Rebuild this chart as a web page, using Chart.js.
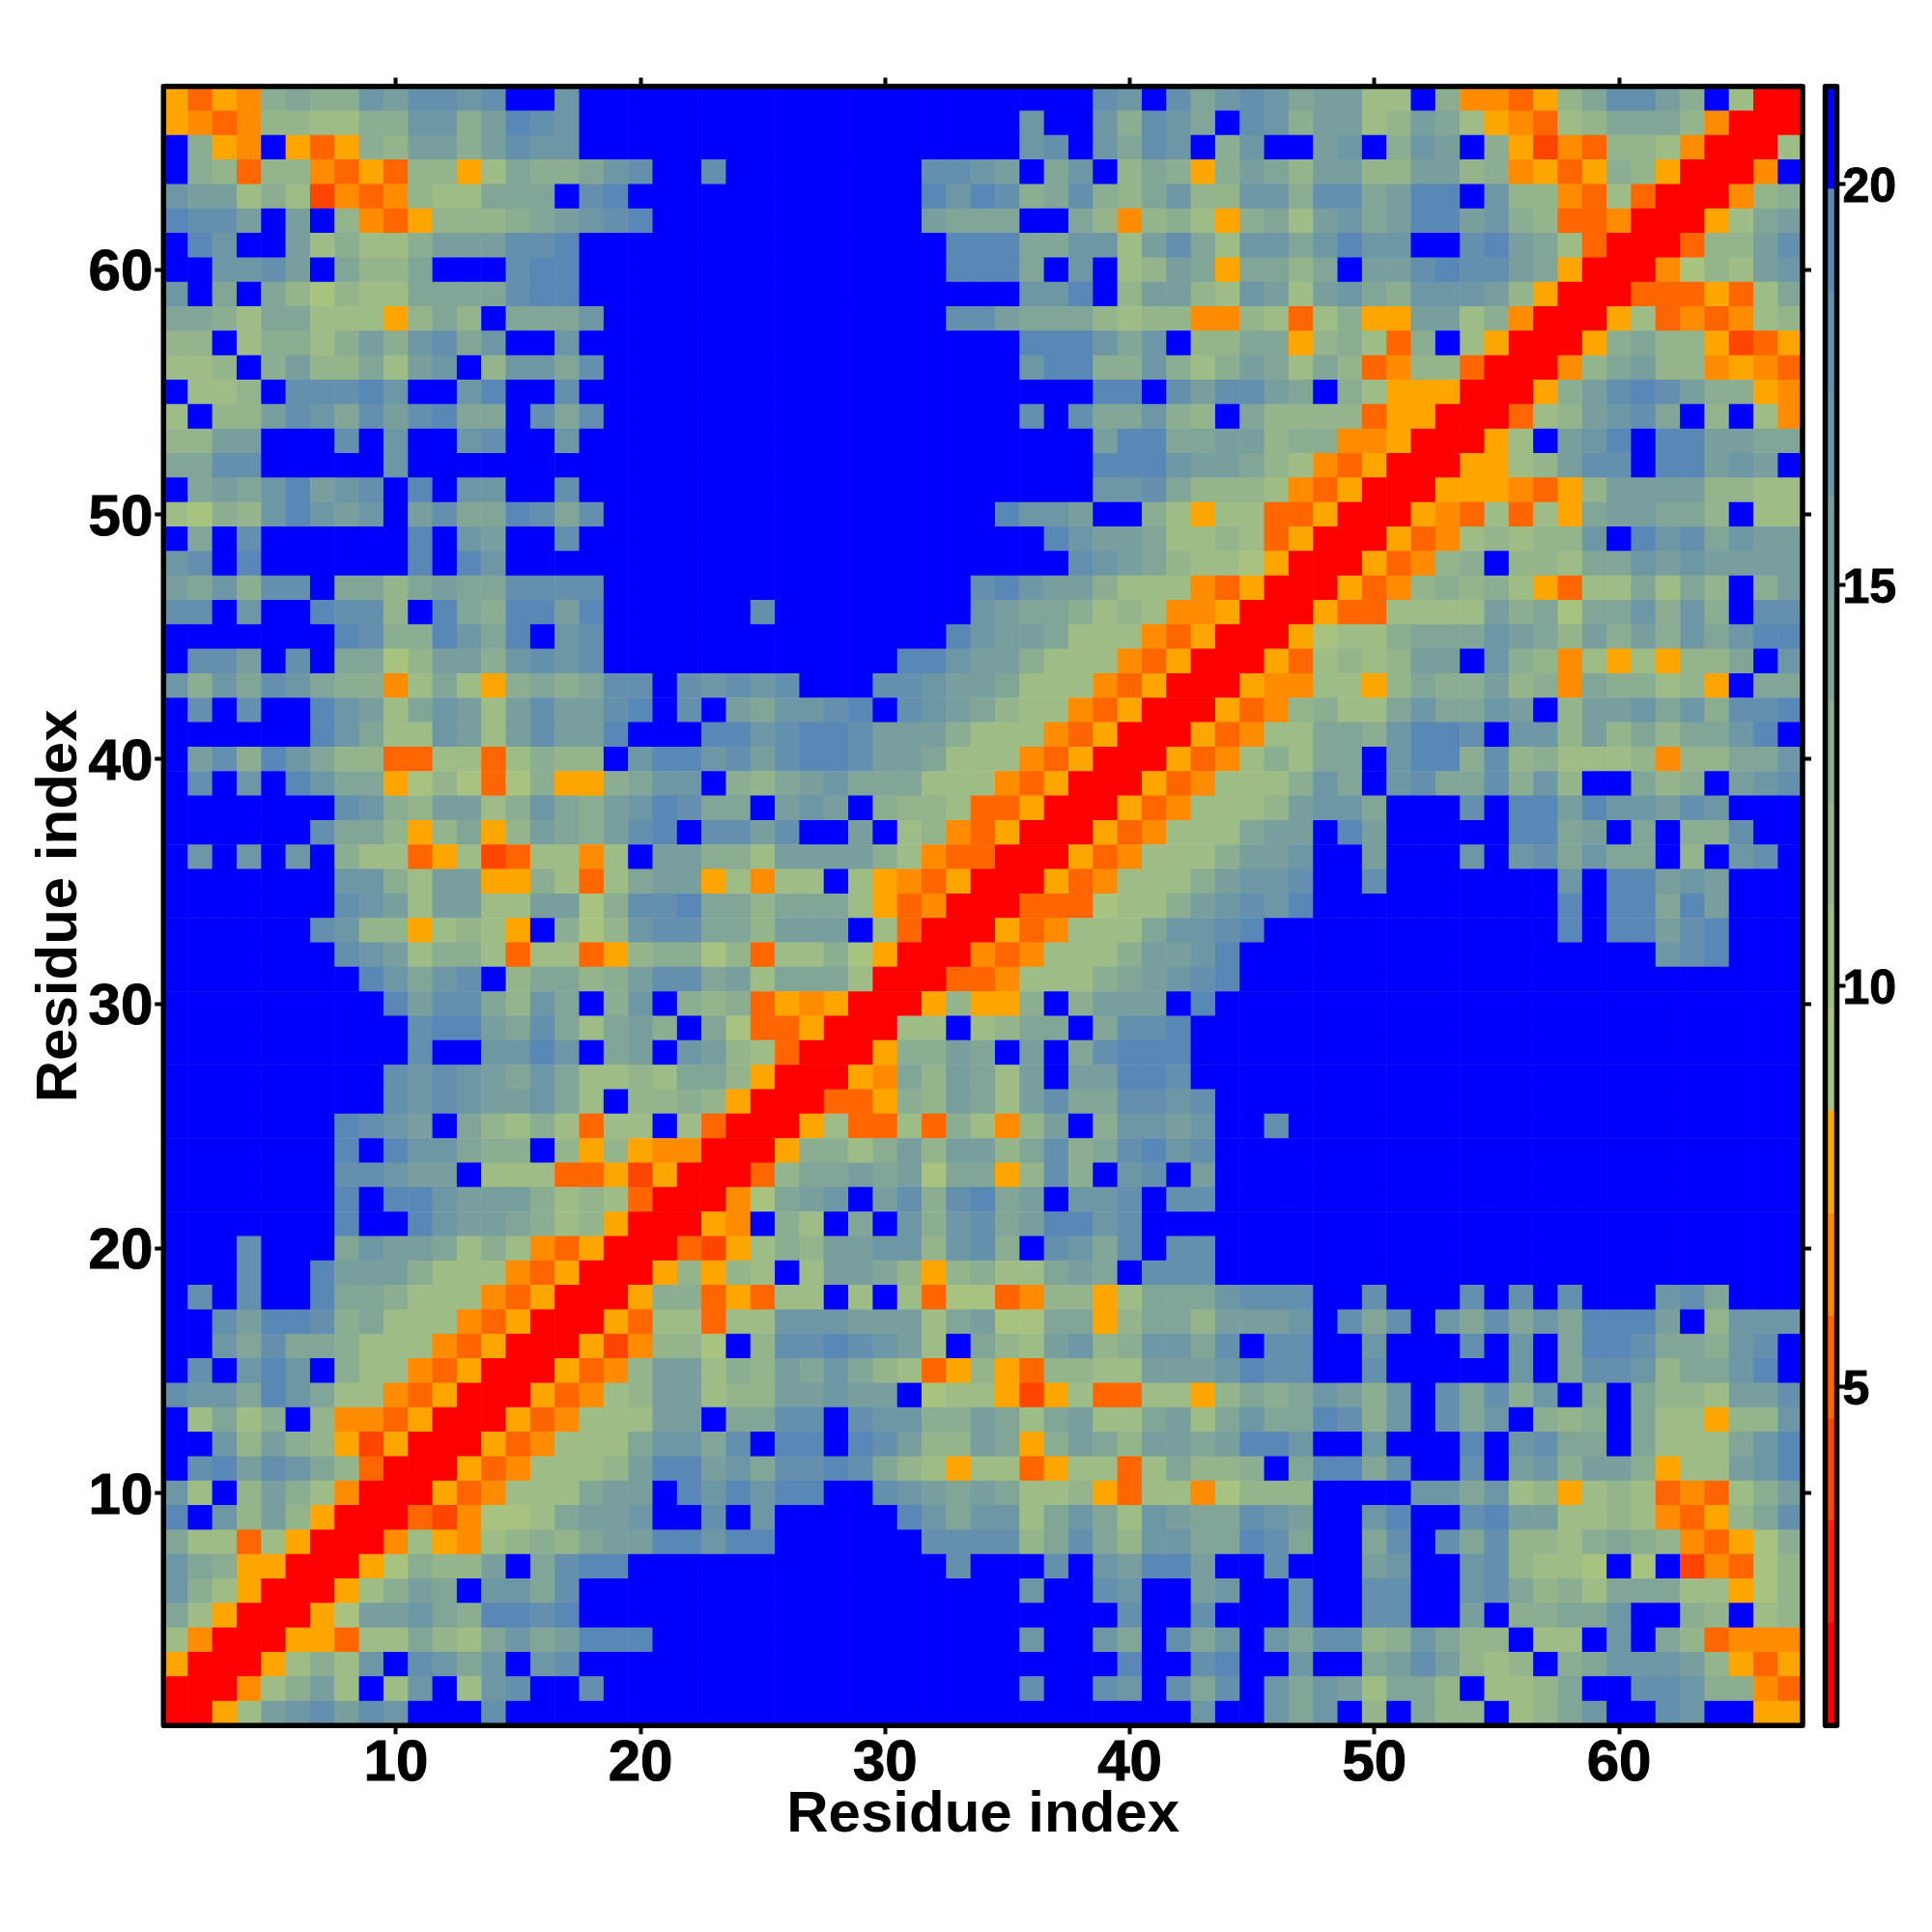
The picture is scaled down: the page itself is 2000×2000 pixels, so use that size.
<!DOCTYPE html>
<html>
<head>
<meta charset="utf-8">
<title>Residue distance map</title>
<script src="https://cdn.jsdelivr.net/npm/chart.js@4/dist/chart.umd.js"></script>
<style>
  body { margin: 0; background: #fff; }
  canvas { position: absolute; top: 0; }
  #mapa { left: 0; }
  #barra { left: 1870px; }
</style>
</head>
<body>
<canvas id="mapa" width="2000" height="2000"></canvas>
<canvas id="barra" width="130" height="2000"></canvas>
<script>
// Colour levels, lowest distance first, and their edges on the colour bar
const levelColors = [
  "#ff0000", "#ff2200", "#ff4500", "#ff6600", "#ff8c00", "#ffa500",
  "#a8c380", "#9ebc86", "#94b48c", "#8bad92", "#81a698", "#789f9e",
  "#6e97a6", "#6490ae", "#5a88b6", "#0000ff"
];
const levelEdges = [0.77, 2.05, 3.33, 4.6, 5.88, 7.16, 8.44, 9.72, 11, 12.27, 13.55, 14.83, 16.11, 17.39, 18.66, 19.94, 21.22];

const residueTicks = [10, 20, 30, 40, 50, 60];
const colorbarTicks = [5, 10, 15, 20];
const axisLabel = "Residue index";

// One string per row, top row is residue 67. Each character is a level (hex index in levelColors)
const mapRows = [
  "53549a99cb ddcdffcfff ffffffffff ffffffffdc fdacdcabb7 7f944358ad db9f700",
  "5434887799 cc9bedcfff ffffffffff fffffcffc9 dcafdc9bb7 8ba754378a aa84000",
  "f954f53598 bb9bdccfff ffffffffff fffffcdfca dcf9cffbcf 9cbf952438 8740007",
  "f983884353 885 7a99acd ffdfffffff fddcbfacf8 a959ba8bb8 8bb8945359 850004f",
  "cbb7972434 877aaafdef ffffffffff feced9ad98 ac88cc9dda beefc88437 3000489",
  "eddbfbf843 58889abcde ffffffffff fbaaaffa84 89759a7bca beebc98334 00057ab",
  "fecffb7977 9bbbddefff ffffffffff ffeeeaacc7 bda7ccacec cffdeba730 00388bd",
  "ffccdbfa88 afffdeefff ffffffffff ffeeeafcf7 8ba5aa8afb bdeddba500 04687bc",
  "cfafa86877 aaaadeefff ffffffffff fffffccef8 bb87cb7bca 9cccb85000 333537a",
  "aa97aa7775 8a8faaacff ffffffffff ffddbaaa87 8844873795 5bb7940005 7343478",
  "88f79979b9 cdacffcfff ffffffffff fffffeeeca cf88aa5897 39f7500059 a885235",
  "778f9b88a7 bcf8ccadff ffffffffff fffffcee99 c979ba7a83 488300048a b884543",
  "f778fdddec ffceffdfff ffffffffff ffffffffee fdbddbaf97 55500059bd edb9954",
  "7f88bdcadb deaafdadff ffffffffff fffffdfdaa c98fa88883 55000378bc daf8f74",
  "88bbfffdfc ffcdffcfff ffffffffff ffffffffbe eaabb89944 500057fbce feebbaa",
  "aaddfffffc ffffffffff ffffffffff ffffffffee ecbba87435 0005578bdd feebcbf",
  "fabacebcdf efccffdfff ffffffffff ffffffffcc da88874350 005554358b bbb8877",
  "7698cecbcf bdaaedadff ffffffffff ffffeccbff 9757733500 05437375ab baa8f77",
  "fafdffffff efcbffdfff ffffffffff ffffffecbb a778735000 53478788cf ecdacbb",
  "cdfeffffff efecffffff ffffffffff fffffffdcb a877650005 3489f887aa cbcbbbb",
  "bac9ddfaa8 abaaddddff ffffffffff fffdecbb97 7743500053 4898975377 a7a8f9b",
  "ddfcffedd8 fea9eebeff ffffdfffff fffcbaa978 7445000533 7777b9a6aa c9c9fdd",
  "fffffffed9 9ecaefcdff ffffffffff ffecbba777 4350005677 9aaacba8b9 b9cacee",
  "fddbfdfaa6 8bb9cdcdff ffffffffff eecbb97774 3500053787 8bbfc98475 7588afc",
  "c9cadca994 7a759a9add fdcdcdfffd dcbba77743 5000544775 8a99b894a9 9785faa",
  "fdfdffecb7 acb7bdbbde fdfbaccdef dcba877435 0005348977 acaacbf8bb cac9dde",
  "ffffffeca7 7cb7bdbbef ffeecdeedb bb97774350 0053477aa9 ceedfcc8b8 a8aacef",
  "fbd9eca883 37737988fc eecdbdeedb ba77743500 0534797aaf cee9d89777 8488aac",
  "fdfcfecaa5 686369559a ccf98abcaa a777435000 5347779caf cdaad9c8ff a89fbcd",
  "fffffffdc9 8bb79ca9bc edaafbcbf9 8873350005 347778bcca fffdfeebec cbdcfff",
  "ffffffdaa8 58a58ba9bd efddbdffbf 7843500053 4777abbfeb fffffeeabf af99dff",
  "fcfcfcf977 357237747f bb997bbbb9 7433000534 7779bbcffb fffcfcdaca af8fcdf",
  "fffffffcc9 7bb559737a bb57477f75 4350005347 779bccdffd fffffffcfe ebcbfff",
  "fffffffdcb 7bb77bb69d deaa8aaa75 3400033367 79bcdcefff fffffffefe eaebfff",
  "ffffffdc88 57875f968c ddaa8bbbf7 3000534777 accdefffff fffffffefe ebdefff",
  "fffffffdcb 7997377358 9968377965 0004347779 bbceffffff ffffffffff fcdefff",
  "ffffffffec acdf8aa89b ddab7aaa70 003347779a bcdeffffff ffffffffff fffffff",
  "fffffffffe bdda8caf9c f989354500 058559f9bb bfefffffff ffffffffff fffffff",
  "ffffffffff deebada7ab 9fa6335000 77f78aafad deffffffff ffffffffff fffffff",
  "ffffffffff dffccecfab fcb8730005 99bafbfade eeffffffff ffffffffff fffffff",
  "fffffffffd cdcbaca778 7aa8500054 a8ba7bfbbe edffffffff ffffffffff fffffff",
  "fffffffffd cdcbbca7f8 8985000335 98ba7bdaad dcdfffffff ffffffffff fffffff",
  "fffffffedc bfa8797377 f730005733 739748bf9c cbcffdffff ffffffffff fffffff",
  "fffffffefe cca99f8585 4400059979 b8bb8ad9ad ecdfffffff ffffffffff fffffff",
  "fffffffddc bbf7773352 500038aaba b6aa58d9fc dfbfffffff ffffffffff fffffff",
  "fffffffefe ecbbb97873 00046abcfb d9deabfccd fddfffffff ffffffffff fffffff",
  "fffffffeff ecbba97850 0054f97faf c9cdabeecd ffffffffff ffffffffff fffffff",
  "fffdfffacb ba79743500 0325798bbc c8cd9fdcad fddfffffff ffffffffff fffffff",
  "fffdffebbb 9777435000 58587f7bba 858977abaf dddfffffff ffffffffff fffffff",
  "fdfdffeaa9 7774350005 9935377f7f 7366348857 aaacdddffd fffdfdfdff fcdafff",
  "ffdbeed9a7 7743500053 77377cccbb b7ab66aa58 aa8bbbcfda dfcadacaee ebf8ccc",
  "ffcadaa977 7435000524 886f8ddedc b7fa87bc89 ccadfddffc fffdfcfaee daa9cdf",
  "fdfcecf977 4350005348 bb798baca8 7358538877 bbbceddffd fffffcfadd c8aacef",
  "dccaeca774 3500053478 bb788bbcbb f677525733 7758a9acb9 cfdad9cfaf a887bbd",
  "f7a79f8443 5000534777 bbfaaddfdc c99ba7ab77 ab7acaaed9 cfdacf989f a77588c",
  "ffc8b98525 000534777a ccadfeefed b88ba59ba8 bbabeecffc fffefcdaaf a777ace",
  "fdebdca830 005347778b eebcaddeda 8757735773 7a889faeea dffdfbc9bb 9577bce",
  "c7f8b97400 0534777abb fececeeffd cbaba77853 7746888fff fccac78578 734379b",
  "efc8b85000 324667abbc ffdfcfffff ecacc7aca7 cbaadcbffc effdebb778 74358ad",
  "a773750004 7547898abb eeceefffff fdddd8ada8 ccaaedaffa dfdad8879a 9843569",
  "ca95500056 988bfadeef ffffffffff ffdfffdfcb eebffdfffb cffcd8776f 6f24368",
  "c975000579 bafccadfff ffffffffff fffffcffdc ffbcffdffd dffcda897a aa77568",
  "a7500056bb ca9eedefff ffffffffff fffffffffd ffdfffdffd dffbf99aac ff98f78",
  "7400055377 a87acabeee ffffffffff fffffcffca fdacfcadd8 9ca88f77fc fa83444",
  "50005797cf dcacfcdfff ffffffffff fffffffffe ffdeffcffa bdb878f9ac ccb8535",
  "000479b7f7 cf7cdffdff ffffffffff fffffdffdc fdadfcacb7 aa8f778aff ddc9943",
  "0057bcdbdc fffdffffff ffffffffff ffffffffff ffcffcacf8 fa88f78acf fdcff55"
];

const tinta = "#000";
const fonte = "'Liberation Sans', Arial, sans-serif";

// Black box round the plot area
const molduraPlugin = {
  id: "moldura",
  afterDraw(chart) {
    const { ctx, chartArea: a } = chart;
    ctx.save();
    ctx.strokeStyle = tinta;
    ctx.lineWidth = 5.5;
    ctx.lineJoin = "round";
    ctx.strokeRect(a.left, a.top, a.right - a.left, a.bottom - a.top);
    ctx.restore();
  }
};

function montarPontos() {
  const pontos = [];
  mapRows.forEach((linha, i) => {
    const niveis = linha.replace(/ /g, "");
    for (let c = 0; c < niveis.length; c++) {
      const nivel = parseInt(niveis[c], 16);
      pontos.push({ x: c + 1, y: mapRows.length - i, nivel });
    }
  });
  return pontos;
}

function eixoResiduo(posicao, tamanho, extras) {
  return Object.assign({
    type: "linear",
    position: posicao,
    min: 0.5,
    max: 67.5,
    border: { display: false },
    grid: { drawOnChartArea: false, drawTicks: true, tickLength: 9, tickWidth: 4, tickColor: tinta },
    ticks: { display: false },
    afterBuildTicks: s => { s.ticks = residueTicks.map(value => ({ value })); },
    afterFit: s => {
      if (s.isHorizontal()) s.height = tamanho;
      else s.width = tamanho;
    }
  }, extras || {});
}

function rotulos(extras) {
  return Object.assign({
    display: true,
    color: tinta,
    autoSkip: false,
    maxRotation: 0,
    textStrokeColor: tinta,
    textStrokeWidth: 1,
    font: { family: fonte, size: 60, weight: "bold" }
  }, extras);
}

function tituloEixo(padding) {
  return {
    display: true,
    text: axisLabel,
    color: tinta,
    padding,
    font: { family: fonte, size: 60, weight: "bold" }
  };
}

function criarMapa() {
  const ctx = document.getElementById("mapa").getContext("2d");
  return new Chart(ctx, {
    type: "scatter",
    data: {
      datasets: [{
        data: montarPontos(),
        pointStyle: "rect",
        pointBorderWidth: 0,
        pointBackgroundColor: c => levelColors[c.raw.nivel],
        // rect radius is the half diagonal of the square
        pointRadius: c => {
          const s = c.chart.scales.x;
          return (Math.abs(s.getPixelForValue(2) - s.getPixelForValue(1)) / 2 + 0.3) * Math.SQRT2;
        }
      }]
    },
    options: {
      responsive: false,
      devicePixelRatio: 1,
      animation: false,
      events: [],
      layout: { padding: 0 },
      plugins: { legend: { display: false }, tooltip: { enabled: false } },
      scales: {
        x: eixoResiduo("bottom", 213.7, { ticks: rotulos({ padding: -5 }), title: tituloEixo({ bottom: 84.5 }) }),
        y: eixoResiduo("left", 169.3, { ticks: rotulos({ padding: 2, labelOffset: 4.5 }), title: tituloEixo({ top: 26.5 }) }),
        xTopo: eixoResiduo("top", 89.4),
        yDireita: eixoResiduo("right", 134)
      }
    },
    plugins: [molduraPlugin]
  });
}

function criarBarra() {
  const ctx = document.getElementById("barra").getContext("2d");
  return new Chart(ctx, {
    type: "bar",
    data: {
      labels: [""],
      datasets: levelColors.map((cor, i) => ({
        data: [[levelEdges[i], levelEdges[i + 1]]],
        backgroundColor: cor,
        borderWidth: 0,
        grouped: false,
        barPercentage: 1,
        categoryPercentage: 1
      }))
    },
    options: {
      responsive: false,
      devicePixelRatio: 1,
      animation: false,
      events: [],
      layout: { padding: { left: 19.5, top: 89.4, bottom: 213.7 } },
      plugins: { legend: { display: false }, tooltip: { enabled: false } },
      scales: {
        x: { display: false },
        y: {
          position: "right",
          min: levelEdges[0],
          max: levelEdges[levelEdges.length - 1],
          border: { display: false },
          grid: { drawOnChartArea: false, tickLength: 9, tickWidth: 4, tickColor: tinta },
          ticks: rotulos({ padding: -3, labelOffset: 4.5, font: { family: fonte, size: 50, weight: "bold" } }),
          afterBuildTicks: s => { s.ticks = colorbarTicks.map(value => ({ value })); },
          afterFit: s => { s.width = 98.5; }
        }
      }
    },
    plugins: [molduraPlugin]
  });
}

criarMapa();
criarBarra();
</script>
</body>
</html>
